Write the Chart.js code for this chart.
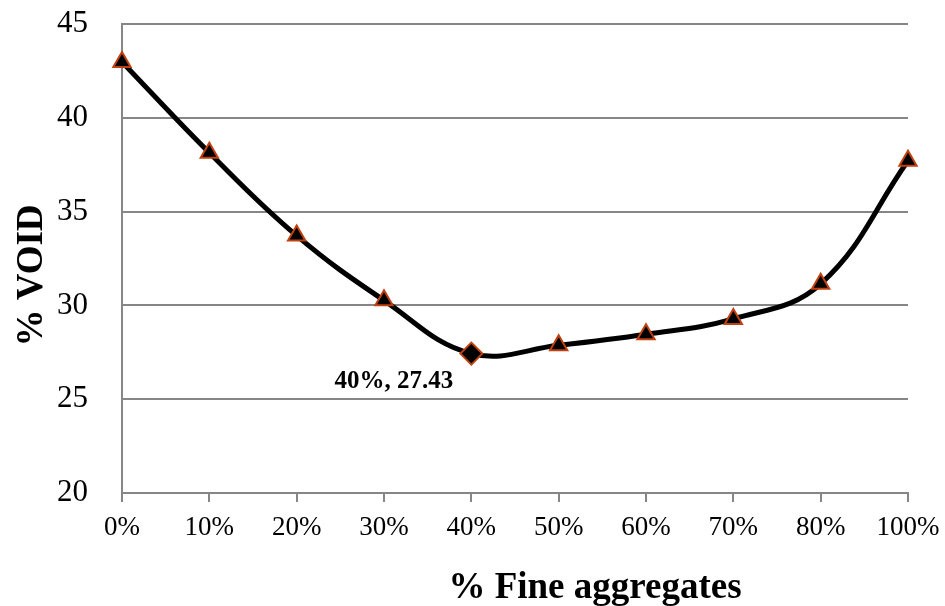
<!DOCTYPE html>
<html>
<head>
<meta charset="utf-8">
<script src="https://cdn.jsdelivr.net/npm/chart.js@4/dist/chart.umd.min.js"></script>
<style>
  html, body { margin: 0; padding: 0; background: #fff; }
  #wrap { width: 945px; height: 606px; }
</style>
</head>
<body>
<div id="wrap"><canvas id="chart" width="945" height="606"></canvas></div>
<script>
const categories = ["0%", "10%", "20%", "30%", "40%", "50%", "60%", "70%", "80%", "100%"];
const voidValues = [42.98, 38.14, 33.72, 30.27, 27.43, 27.87, 28.46, 29.28, 31.15, 37.71];
const pointShapes = ["triangle", "triangle", "triangle", "triangle", "rectRot", "triangle", "triangle", "triangle", "triangle", "triangle"];
const pointSizes = [10, 10, 10, 10, 11, 10, 10, 10, 10, 10];
const labelIndex = 4;
const labelText = "40%, 27.43";
const xTitle = "% Fine aggregates";
const yTitle = "% VOID";

const serif = "'Liberation Serif', 'Times New Roman', serif";

// Data label under the minimum point + the two axis titles
const annotations = {
  id: "annotations",
  afterDraw(chart) {
    const ctx = chart.ctx;
    const area = chart.chartArea;
    const pt = chart.getDatasetMeta(0).data[labelIndex];
    ctx.save();
    ctx.fillStyle = "#000";

    ctx.font = "bold 25px " + serif;
    ctx.textAlign = "right";
    ctx.textBaseline = "middle";
    ctx.fillText(labelText, pt.x - 18, pt.y + 28);

    ctx.font = "bold 37px " + serif;
    ctx.textAlign = "center";
    ctx.textBaseline = "alphabetic";
    ctx.fillText(xTitle, (area.left + area.right) / 2 + 80, 598);

    ctx.translate(42, (area.top + area.bottom) / 2 + 17);
    ctx.rotate(-Math.PI / 2);
    ctx.fillText(yTitle, 0, 0);
    ctx.restore();
  }
};

new Chart(document.getElementById("chart").getContext("2d"), {
  type: "line",
  data: {
    labels: categories,
    datasets: [{
      data: voidValues,
      borderColor: "#000",
      borderWidth: 5,
      tension: 0.4,
      pointStyle: pointShapes,
      pointRadius: pointSizes,
      pointBackgroundColor: "#000",
      pointBorderColor: "#C0410F",
      pointBorderWidth: 2
    }]
  },
  options: {
    responsive: false,
    animation: false,
    layout: { padding: { top: 24, right: 37, left: 0, bottom: 0 } },
    plugins: {
      legend: { display: false },
      tooltip: { enabled: false }
    },
    scales: {
      x: {
        offset: false,
        grid: { drawOnChartArea: false, drawTicks: true, tickLength: 9, color: "#868686", lineWidth: 2 },
        border: { color: "#868686", width: 2 },
        ticks: { color: "#000", font: { family: serif, size: 27 }, padding: 10, maxRotation: 0, autoSkip: false },
        afterFit(scale) {
          scale.height = 113;
          scale.paddingLeft = 0;
          scale.paddingRight = 0;
        }
      },
      y: {
        min: 20,
        max: 45,
        ticks: { stepSize: 5, color: "#000", font: { family: serif, size: 31 }, padding: 34 },
        grid: { color: "#868686", lineWidth: 2, drawTicks: false },
        border: { color: "#868686", width: 2 },
        afterFit(scale) {
          scale.width = 122;
          scale.paddingTop = 0;
          scale.paddingBottom = 0;
        }
      }
    }
  },
  plugins: [annotations]
});
</script>
</body>
</html>
